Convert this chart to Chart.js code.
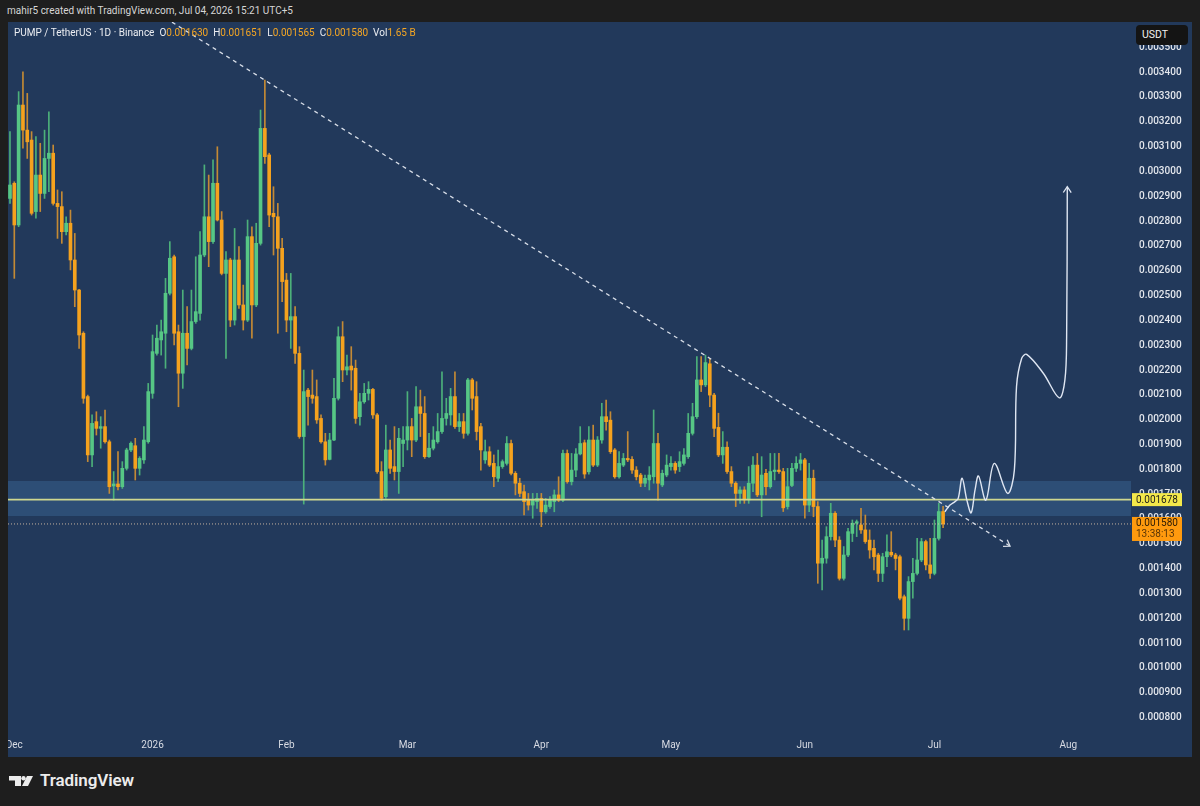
<!DOCTYPE html>
<html>
<head>
<meta charset="utf-8">
<title>PUMP / TetherUS · 1D · Binance</title>
<script src="https://cdn.jsdelivr.net/npm/chart.js@4.4.1/dist/chart.umd.min.js"></script>
<style>
  html, body { margin: 0; padding: 0; width: 1200px; height: 806px; overflow: hidden; background: #1e1e1e; font-family: Roboto, "Noto Sans", sans-serif; }
  #header { position: absolute; left: 7px; top: 5px; font-size: 10px; color: #d6d6d6; white-space: pre; }
  #panel { position: absolute; left: 8px; top: 22px; width: 1184px; height: 735px; background: #22395b; overflow: hidden; }
  #chart { position: absolute; left: 0; top: 0; }
  #legend { position: absolute; left: 6px; top: 5px; font-size: 10px; color: #eceef2; white-space: pre; }
  #legend .v { color: #f5a623; }
  #unit { position: absolute; left: 1128px; top: 3px; width: 52px; height: 20px; background: #141414; border-radius: 4px; color: #f0f0f0; font-size: 10.5px; line-height: 20px; padding-left: 6px; box-sizing: border-box; }
  #brand { position: absolute; left: 9px; top: 771px; height: 22px; }
  #brand span { position: absolute; left: 31px; top: -1px; font-size: 17px; font-weight: 600; color: #ececec; letter-spacing: -0.1px; }
</style>
</head>
<body>
<div id="header">mahir5 created with TradingView.com, Jul 04, 2026 15:21 UTC+5</div>
<div id="panel">
  <canvas id="chart" width="1184" height="735"></canvas>
  <div id="legend">PUMP / TetherUS · 1D · Binance  O<span class="v">0.001630</span>  H<span class="v">0.001651</span>  L<span class="v">0.001565</span>  C<span class="v">0.001580</span>  Vol<span class="v">1.65 B</span></div>
  <div id="unit">USDT</div>
</div>
<div id="brand">
  <svg width="26" height="14" viewBox="0 0 26 14">
    <path d="M0 4 H12 V16 H6 V8.5 H0 Z" fill="#ececec"/>
    <circle cx="14.5" cy="6.2" r="2.2" fill="#ececec"/>
    <path d="M18 4 H24 L18 16 H12 Z" fill="#ececec"/>
  </svg>
  <span>TradingView</span>
</div>

<script>
// Daily candles, day 0 = 30 Nov 2025 ... day 216 = 4 Jul 2026
const opens = [
  0.002891, 0.002952, 0.002784, 0.003267, 0.003166, 0.003126, 0.002838, 0.002985, 0.002911, 0.003052,
  0.003073, 0.002871, 0.002858, 0.002757, 0.002791, 0.002643, 0.002522, 0.002348, 0.002093, 0.001858,
  0.001992, 0.001965, 0.001972, 0.001911, 0.001733, 0.001741, 0.001730, 0.001804, 0.001878, 0.001895,
  0.001804, 0.001838, 0.001911, 0.002106, 0.002267, 0.002321, 0.002348, 0.002509, 0.002656, 0.002354,
  0.002187, 0.002348, 0.002287, 0.002395, 0.002428, 0.002663, 0.002817, 0.002717, 0.002952, 0.002804,
  0.002589, 0.002643, 0.002401, 0.002643, 0.002462, 0.002401, 0.002737, 0.002462, 0.002710, 0.003173,
  0.003066, 0.002831, 0.002817, 0.002690, 0.002562, 0.002401, 0.002415, 0.002267, 0.001932, 0.002119,
  0.002099, 0.002093, 0.002005, 0.001911, 0.001840, 0.001918, 0.002086, 0.002334, 0.002200, 0.002216,
  0.002207, 0.002012, 0.002072, 0.002106, 0.002122, 0.002019, 0.001791, 0.001690, 0.001878, 0.001811,
  0.001791, 0.001904, 0.001918, 0.001972, 0.001918, 0.002052, 0.002025, 0.001851, 0.001885, 0.001911,
  0.001952, 0.002005, 0.002019, 0.002093, 0.001972, 0.001992, 0.001945, 0.002160, 0.002093, 0.001972,
  0.001838, 0.001871, 0.001824, 0.001764, 0.001811, 0.001824, 0.001904, 0.001784, 0.001744, 0.001710,
  0.001676, 0.001656, 0.001670, 0.001683, 0.001629, 0.001650, 0.001670, 0.001697, 0.001676, 0.001864,
  0.001750, 0.001797, 0.001862, 0.001907, 0.001790, 0.001918, 0.001817, 0.001918, 0.002012, 0.001998,
  0.001878, 0.001770, 0.001817, 0.001844, 0.001840, 0.001797, 0.001777, 0.001744, 0.001757, 0.001770,
  0.001904, 0.001737, 0.001777, 0.001811, 0.001824, 0.001811, 0.001824, 0.001851, 0.001945, 0.002012,
  0.002160, 0.002140, 0.002225, 0.002099, 0.001969, 0.001858, 0.001889, 0.001791, 0.001744, 0.001703,
  0.001717, 0.001677, 0.001744, 0.001817, 0.001697, 0.001784, 0.001730, 0.001791, 0.001797, 0.001791,
  0.001650, 0.001735, 0.001804, 0.001824, 0.001838, 0.001656, 0.001764, 0.001650, 0.001422, 0.001442,
  0.001529, 0.001623, 0.001515, 0.001361, 0.001455, 0.001542, 0.001583, 0.001576, 0.001556, 0.001515,
  0.001482, 0.001455, 0.001381, 0.001448, 0.001466, 0.001455, 0.001448, 0.001287, 0.001200, 0.001348,
  0.001381, 0.001435, 0.001509, 0.001415, 0.001381, 0.001522, 0.001630
];
const highs = [
  0.003160, 0.002958, 0.003321, 0.003401, 0.003314, 0.003160, 0.003140, 0.003113, 0.003166, 0.003240,
  0.003106, 0.002925, 0.002918, 0.002817, 0.002844, 0.002750, 0.002525, 0.002354, 0.002099, 0.002019,
  0.002032, 0.002012, 0.002039, 0.001918, 0.001791, 0.001871, 0.001831, 0.001885, 0.001911, 0.001925,
  0.001851, 0.001972, 0.002146, 0.002341, 0.002381, 0.002401, 0.002569, 0.002717, 0.002663, 0.002381,
  0.002522, 0.002455, 0.002522, 0.002656, 0.002757, 0.003026, 0.002985, 0.003046, 0.003099, 0.002838,
  0.002677, 0.002650, 0.002770, 0.002697, 0.002542, 0.002804, 0.002777, 0.002791, 0.003247, 0.003368,
  0.003073, 0.002938, 0.002871, 0.002730, 0.002589, 0.002589, 0.002455, 0.002294, 0.002200, 0.002126,
  0.002200, 0.002160, 0.002019, 0.001945, 0.001945, 0.002166, 0.002374, 0.002395, 0.002260, 0.002294,
  0.002240, 0.002106, 0.002146, 0.002153, 0.002126, 0.002025, 0.001831, 0.001978, 0.001918, 0.001972,
  0.001965, 0.001972, 0.002113, 0.002005, 0.002133, 0.002119, 0.002093, 0.001945, 0.001972, 0.002025,
  0.002193, 0.002086, 0.002126, 0.002193, 0.002025, 0.002025, 0.002166, 0.002166, 0.002153, 0.001985,
  0.001918, 0.001891, 0.001858, 0.001878, 0.001838, 0.001932, 0.001918, 0.001791, 0.001764, 0.001737,
  0.001703, 0.001703, 0.001703, 0.001703, 0.001683, 0.001690, 0.001717, 0.001770, 0.001878, 0.001878,
  0.001864, 0.001884, 0.001972, 0.001918, 0.001972, 0.001978, 0.001932, 0.002066, 0.002079, 0.002032,
  0.001884, 0.001871, 0.001864, 0.001952, 0.001851, 0.001811, 0.001784, 0.001777, 0.001811, 0.002039,
  0.001945, 0.001797, 0.001858, 0.001851, 0.001831, 0.001871, 0.001884, 0.002025, 0.002066, 0.002254,
  0.002254, 0.002260, 0.002246, 0.002106, 0.002026, 0.001952, 0.001911, 0.001811, 0.001750, 0.001730,
  0.001730, 0.001811, 0.001851, 0.001864, 0.001851, 0.001800, 0.001864, 0.001864, 0.001864, 0.001804,
  0.001804, 0.001824, 0.001851, 0.001864, 0.001844, 0.001824, 0.001797, 0.001670, 0.001515, 0.001569,
  0.001663, 0.001630, 0.001529, 0.001489, 0.001562, 0.001596, 0.001596, 0.001643, 0.001616, 0.001556,
  0.001515, 0.001462, 0.001462, 0.001536, 0.001549, 0.001462, 0.001455, 0.001294, 0.001368, 0.001442,
  0.001522, 0.001522, 0.001515, 0.001522, 0.001596, 0.001663, 0.001651
];
const lows = [
  0.002871, 0.002569, 0.002777, 0.003093, 0.003052, 0.002824, 0.002811, 0.002838, 0.002891, 0.002918,
  0.002864, 0.002730, 0.002710, 0.002744, 0.002603, 0.002455, 0.002287, 0.002066, 0.001831, 0.001811,
  0.001938, 0.001885, 0.001905, 0.001703, 0.001676, 0.001717, 0.001723, 0.001797, 0.001871, 0.001757,
  0.001777, 0.001824, 0.001905, 0.002086, 0.002260, 0.002260, 0.002207, 0.002502, 0.002301, 0.002052,
  0.002126, 0.002220, 0.002281, 0.002388, 0.002401, 0.002656, 0.002616, 0.002710, 0.002800, 0.002583,
  0.002247, 0.002375, 0.002381, 0.002448, 0.002361, 0.002395, 0.002328, 0.002455, 0.002703, 0.003032,
  0.002777, 0.002663, 0.002348, 0.002475, 0.002354, 0.002287, 0.002227, 0.001925, 0.001660, 0.001978,
  0.002066, 0.001985, 0.001905, 0.001817, 0.001838, 0.001915, 0.002079, 0.002153, 0.002180, 0.002119,
  0.001985, 0.001978, 0.002066, 0.002079, 0.002005, 0.001784, 0.001676, 0.001683, 0.001784, 0.001757,
  0.001703, 0.001811, 0.001878, 0.001851, 0.001911, 0.001932, 0.001844, 0.001848, 0.001878, 0.001905,
  0.001945, 0.001978, 0.001978, 0.001965, 0.001952, 0.001925, 0.001938, 0.002039, 0.001918, 0.001797,
  0.001824, 0.001811, 0.001730, 0.001750, 0.001804, 0.001817, 0.001777, 0.001697, 0.001690, 0.001616,
  0.001636, 0.001603, 0.001643, 0.001569, 0.001623, 0.001643, 0.001629, 0.001670, 0.001670, 0.001744,
  0.001737, 0.001770, 0.001858, 0.001764, 0.001781, 0.001811, 0.001811, 0.001905, 0.001958, 0.001864,
  0.001764, 0.001764, 0.001811, 0.001831, 0.001784, 0.001757, 0.001730, 0.001730, 0.001717, 0.001744,
  0.001676, 0.001730, 0.001770, 0.001797, 0.001784, 0.001791, 0.001817, 0.001844, 0.001938, 0.002005,
  0.002113, 0.002133, 0.002052, 0.001932, 0.001851, 0.001824, 0.001784, 0.001730, 0.001650, 0.001663,
  0.001663, 0.001663, 0.001710, 0.001690, 0.001609, 0.001697, 0.001724, 0.001757, 0.001784, 0.001630,
  0.001640, 0.001730, 0.001791, 0.001797, 0.001603, 0.001629, 0.001609, 0.001341, 0.001314, 0.001422,
  0.001515, 0.001489, 0.001354, 0.001354, 0.001448, 0.001509, 0.001529, 0.001542, 0.001502, 0.001442,
  0.001395, 0.001348, 0.001348, 0.001408, 0.001448, 0.001395, 0.001274, 0.001153, 0.001153, 0.001281,
  0.001375, 0.001428, 0.001395, 0.001361, 0.001375, 0.001515, 0.001565
];
const closes = [
  0.002945, 0.002784, 0.003267, 0.003166, 0.003119, 0.002831, 0.002985, 0.002911, 0.003052, 0.003073,
  0.002871, 0.002858, 0.002757, 0.002791, 0.002643, 0.002522, 0.002341, 0.002086, 0.001858, 0.001985,
  0.001965, 0.001972, 0.001911, 0.001730, 0.001741, 0.001730, 0.001804, 0.001878, 0.001905, 0.001804,
  0.001844, 0.001918, 0.002113, 0.002274, 0.002328, 0.002354, 0.002509, 0.002650, 0.002348, 0.002187,
  0.002348, 0.002287, 0.002395, 0.002435, 0.002663, 0.002817, 0.002717, 0.002952, 0.002804, 0.002589,
  0.002643, 0.002401, 0.002643, 0.002462, 0.002401, 0.002737, 0.002462, 0.002710, 0.003173, 0.003059,
  0.002824, 0.002817, 0.002690, 0.002556, 0.002401, 0.002415, 0.002267, 0.001932, 0.002113, 0.002093,
  0.002086, 0.001999, 0.001911, 0.001838, 0.001918, 0.002086, 0.002334, 0.002200, 0.002213, 0.002200,
  0.002005, 0.002072, 0.002106, 0.002122, 0.002019, 0.001791, 0.001683, 0.001878, 0.001804, 0.001791,
  0.001925, 0.001918, 0.001972, 0.001918, 0.002052, 0.002025, 0.001851, 0.001885, 0.001918, 0.001952,
  0.002005, 0.002025, 0.002093, 0.001972, 0.001992, 0.001945, 0.002160, 0.002086, 0.001952, 0.001878,
  0.001871, 0.001817, 0.001770, 0.001811, 0.001831, 0.001904, 0.001784, 0.001744, 0.001703, 0.001670,
  0.001656, 0.001676, 0.001683, 0.001629, 0.001656, 0.001676, 0.001697, 0.001676, 0.001864, 0.001750,
  0.001797, 0.001862, 0.001904, 0.001781, 0.001918, 0.001817, 0.001918, 0.002012, 0.001992, 0.001871,
  0.001770, 0.001824, 0.001844, 0.001838, 0.001797, 0.001770, 0.001744, 0.001764, 0.001777, 0.001904,
  0.001744, 0.001784, 0.001817, 0.001824, 0.001797, 0.001831, 0.001858, 0.001945, 0.002012, 0.002160,
  0.002140, 0.002230, 0.002099, 0.001965, 0.001858, 0.001889, 0.001791, 0.001744, 0.001703, 0.001717,
  0.001677, 0.001744, 0.001817, 0.001697, 0.001777, 0.001730, 0.001791, 0.001797, 0.001791, 0.001645,
  0.001730, 0.001804, 0.001824, 0.001838, 0.001656, 0.001764, 0.001650, 0.001422, 0.001442, 0.001529,
  0.001623, 0.001515, 0.001361, 0.001455, 0.001549, 0.001583, 0.001589, 0.001556, 0.001509, 0.001475,
  0.001448, 0.001381, 0.001448, 0.001468, 0.001455, 0.001441, 0.001281, 0.001200, 0.001348, 0.001381,
  0.001435, 0.001509, 0.001415, 0.001381, 0.001522, 0.001630, 0.001580
];

// Axis ticks
const monthTicks = [1, 33, 64, 92, 123, 153, 184, 214, 245];
const monthLabels = ['Dec', '2026', 'Feb', 'Mar', 'Apr', 'May', 'Jun', 'Jul', 'Aug'];
const priceTicks = [0.0008, 0.0009, 0.0010, 0.0011, 0.0012, 0.0013, 0.0014, 0.0015, 0.0016, 0.0017,
  0.0018, 0.0019, 0.0020, 0.0021, 0.0022, 0.0023, 0.0024, 0.0025, 0.0026, 0.0027,
  0.0028, 0.0029, 0.0030, 0.0031, 0.0032, 0.0033, 0.0034, 0.0035];

// Visible window
const xMin = -0.46, xMax = 259.5;
const yMin = 0.0007382, yMax = 0.0036014;

// Drawings
const supportLevel = 0.001678;
const lastPrice = 0.001580;
const zoneHigh = 0.001753, zoneLow = 0.001612;
const trendX = [37.5, 231.5];
const trendY = [0.003601, 0.001491];
const projX = [216.4, 217.6, 218.75, 219.5, 220.4, 221.5, 222.5, 223.4, 224.2, 225.9, 227.85, 230.95, 232.5, 233.0, 234.2, 235.35, 239.2, 242.9, 244.2, 244.6, 244.75];
const projY = [0.001629, 0.001656, 0.001670, 0.001683, 0.001764, 0.001676, 0.001625, 0.001717, 0.001773, 0.001676, 0.001824, 0.001703, 0.001797, 0.002133, 0.002247, 0.002263, 0.002187, 0.002088, 0.002160, 0.002334, 0.002938];

const GREEN = '#56c785';
const ORANGE = '#f5a21e';
const GREEN_WICK = '#4cb07a';
const ORANGE_WICK = '#c48a35';

const isUp = closes.map((c, i) => c >= opens[i]);

// Zone box behind the candles
const zonePlugin = {
    id: 'zone',
    beforeDatasetsDraw(chart) {
        const { ctx, chartArea, scales } = chart;
        const top = scales.y.getPixelForValue(zoneHigh);
        const bottom = scales.y.getPixelForValue(zoneLow);
        ctx.save();
        ctx.fillStyle = '#2d4e76';
        ctx.fillRect(chartArea.left, top, chartArea.right - chartArea.left, bottom - top);
        ctx.restore();
    }
};

// Open arrow heads at the end of the drawn lines
const arrowPlugin = {
    id: 'arrows',
    afterDatasetsDraw(chart) {
        const { ctx } = chart;
        chart.data.datasets.forEach((ds, i) => {
            if (!ds.arrow) return;
            const pts = chart.getDatasetMeta(i).data;
            const a = pts[pts.length - 2], b = pts[pts.length - 1];
            const ang = Math.atan2(b.y - a.y, b.x - a.x);
            const len = ds.arrow;
            ctx.save();
            ctx.strokeStyle = ds.borderColor;
            ctx.lineWidth = 1.3;
            ctx.setLineDash([]);
            ctx.beginPath();
            ctx.moveTo(b.x - len * Math.cos(ang - 0.6), b.y - len * Math.sin(ang - 0.6));
            ctx.lineTo(b.x, b.y);
            ctx.lineTo(b.x - len * Math.cos(ang + 0.6), b.y - len * Math.sin(ang + 0.6));
            ctx.stroke();
            ctx.restore();
        });
    }
};

// Price tags on the right axis
const tagPlugin = {
    id: 'tags',
    afterDraw(chart) {
        const { ctx, chartArea, scales } = chart;
        const x = chartArea.right + 1;
        const w = 50;
        ctx.save();
        ctx.textBaseline = 'middle';
        ctx.textAlign = 'left';

        const ys = scales.y.getPixelForValue(supportLevel);
        ctx.fillStyle = '#f4e84a';
        ctx.fillRect(x, ys - 6.5, w, 13);
        ctx.fillStyle = '#1b1b1b';
        ctx.font = '10px Roboto, "Noto Sans", sans-serif';
        ctx.fillText('0.001678', x + 4, ys + 0.5);

        const yl = scales.y.getPixelForValue(lastPrice);
        ctx.fillStyle = '#ff9a0e';
        ctx.fillRect(x, yl - 7, w, 24);
        ctx.fillStyle = '#2a1a05';
        ctx.fillText('0.001580', x + 4, yl - 0.5);
        ctx.fillStyle = '#5a3506';
        ctx.fillText('13:38:13', x + 4, yl + 10.5);
        ctx.restore();
    }
};

const ctx = document.getElementById('chart');

new Chart(ctx, {
    type: 'bar',
    data: {
        datasets: [
            {
                type: 'line',
                data: projX.map((x, i) => ({ x: x, y: projY[i] })),
                borderColor: '#dfe6f2',
                borderWidth: 1.4,
                tension: 0.35,
                pointRadius: 0,
                arrow: 7
            },
            {
                type: 'line',
                data: trendX.map((x, i) => ({ x: x, y: trendY[i] })),
                borderColor: '#d8dee8',
                borderWidth: 1.3,
                borderDash: [4, 4],
                pointRadius: 0,
                arrow: 7
            },
            {
                type: 'line',
                data: [{ x: xMin, y: supportLevel }, { x: xMax, y: supportLevel }],
                borderColor: '#cfd88f',
                borderWidth: 1.6,
                pointRadius: 0
            },
            {
                type: 'line',
                data: [{ x: xMin, y: lastPrice }, { x: xMax, y: lastPrice }],
                borderColor: 'rgba(225, 200, 170, 0.85)',
                borderWidth: 1,
                borderDash: [1, 2],
                pointRadius: 0
            },
            {
                // bodies
                data: opens.map((o, i) => ({ x: i, y: [o, closes[i]] })),
                backgroundColor: isUp.map(u => u ? GREEN : ORANGE),
                barThickness: 3,
                minBarLength: 1,
                grouped: false
            },
            {
                // wicks
                data: lows.map((l, i) => ({ x: i, y: [l, highs[i]] })),
                backgroundColor: isUp.map(u => u ? GREEN_WICK : ORANGE_WICK),
                barThickness: 1,
                grouped: false
            }
        ]
    },
    options: {
        responsive: false,
        animation: false,
        devicePixelRatio: 1,
        events: [],
        layout: { padding: 0 },
        plugins: {
            legend: { display: false },
            tooltip: { enabled: false }
        },
        scales: {
            x: {
                type: 'linear',
                min: xMin,
                max: xMax,
                offset: false,
                grid: { display: false, drawTicks: false },
                border: { display: false },
                afterBuildTicks: scale => { scale.ticks = monthTicks.map(v => ({ value: v })); },
                afterFit: scale => { scale.height = 24; scale.paddingLeft = 0; scale.paddingRight = 0; },
                ticks: {
                    autoSkip: false,
                    maxRotation: 0,
                    padding: 6,
                    color: '#d8dbe3',
                    font: { family: 'Roboto, "Noto Sans", sans-serif', size: 10 },
                    callback: (v, i) => monthLabels[i]
                }
            },
            y: {
                type: 'linear',
                position: 'right',
                min: yMin,
                max: yMax,
                grid: { display: false, drawTicks: false },
                border: { display: false },
                afterBuildTicks: scale => { scale.ticks = priceTicks.map(v => ({ value: v })); },
                afterFit: scale => { scale.width = 61; scale.paddingTop = 0; scale.paddingBottom = 0; },
                ticks: {
                    padding: 8,
                    color: '#e3e6ec',
                    font: { family: 'Roboto, "Noto Sans", sans-serif', size: 10, weight: '500' },
                    callback: v => v.toFixed(6)
                }
            }
        }
    },
    plugins: [zonePlugin, arrowPlugin, tagPlugin]
});
</script>
</body>
</html>
